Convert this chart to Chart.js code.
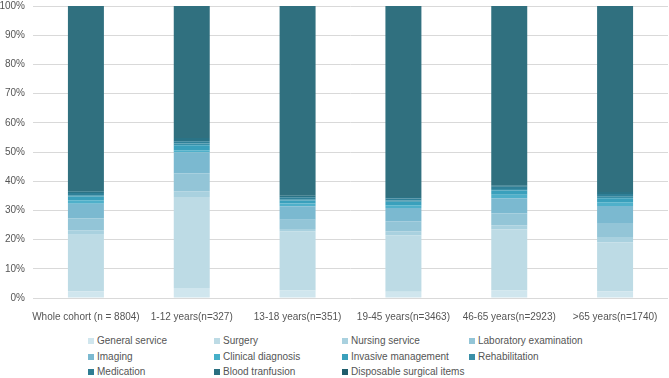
<!DOCTYPE html>
<html>
<head>
<meta charset="utf-8">
<script src="https://cdn.jsdelivr.net/npm/chart.js@4/dist/chart.umd.min.js"></script>
<style>
  html, body { margin: 0; padding: 0; background: #fff; overflow: hidden; }
  #wrap { position: relative; width: 669px; height: 378px; overflow: hidden; }
  #box { position: absolute; left: 0; top: -8px; width: 669px; height: 330px; }
  #legend { position: absolute; left: 0; top: 335px; width: 669px; height: 43px;
    font-family: "Liberation Sans", Arial, sans-serif; font-size: 10px; color: #555; }
  .li { position: absolute; white-space: nowrap; line-height: 12px; }
  .sw { display: inline-block; width: 6px; height: 6px; margin-right: 3px; vertical-align: 0px; }
</style>
</head>
<body>
<div id="wrap">
  <div id="box"><canvas id="c"></canvas></div>
  <div id="legend"></div>
</div>
<script>
const categories = ["Whole cohort (n = 8804)", "1-12 years(n=327)", "13-18 years(n=351)", "19-45 years(n=3463)", "46-65 years(n=2923)", ">65 years(n=1740)"];
const seriesNames = ["General service", "Surgery", "Nursing service", "Laboratory examination", "Imaging", "Clinical diagnosis", "Invasive management", "Rehabilitation", "Medication", "Blood tranfusion", "Disposable surgical items"];
const generalService = [2.3, 3.4, 2.6, 2.1, 2.6, 2.3];
const surgery        = [19.4, 31.2, 20.3, 19.4, 20.9, 16.7];
const nursingService = [1.5, 2.0, 0.7, 1.4, 1.4, 1.9];
const laboratory     = [4.0, 6.0, 3.2, 3.4, 4.0, 4.8];
const imaging        = [5.1, 7.2, 4.6, 4.5, 5.3, 5.8];
const clinicalDiag   = [1.2, 0.8, 1.0, 1.0, 1.2, 1.3];
const invasiveMgmt   = [1.3, 1.7, 1.0, 1.2, 1.4, 1.4];
const rehabilitation = [0.4, 0.6, 0.4, 0.4, 0.5, 0.5];
const medication     = [0.8, 0.8, 0.7, 0.7, 0.8, 0.9];
const bloodTransfusion = [0.6, 1.1, 0.5, 0.5, 0.5, 0.7];
const disposableItems  = [63.4, 45.2, 65.0, 65.4, 61.4, 63.7];
const yTicks = [0, 10, 20, 30, 40, 50, 60, 70, 80, 90, 100];

const seriesValues = [generalService, surgery, nursingService, laboratory, imaging, clinicalDiag, invasiveMgmt, rehabilitation, medication, bloodTransfusion, disposableItems];
const colors = ["#d0e6ee", "#bddbe5", "#a9d1df", "#93c5d7", "#7bb9d0", "#4fb0ca", "#3aa0bc", "#3a8fa7", "#2f8098", "#2a7386", "#30707f"];
const legendColors = ["#d0e6ee", "#bddbe5", "#a9d1df", "#93c5d7", "#7bb9d0", "#45afc8", "#3aa0bc", "#3a8fa7", "#2f7d93", "#2a6f80", "#1f5d6c"];

const datasets = seriesNames.map((n, i) => ({
  label: n,
  data: seriesValues[i],
  backgroundColor: colors[i],
  borderWidth: 0,
  barPercentage: 0.34,
  categoryPercentage: 1.0
}));

new Chart(document.getElementById('c'), {
  type: 'bar',
  data: { labels: categories, datasets },
  options: {
    responsive: true,
    maintainAspectRatio: false,
    animation: false,
    layout: { padding: { top: 0, right: 1, left: 0, bottom: 0 } },
    plugins: { legend: { display: false }, tooltip: { enabled: false } },
    scales: {
      x: {
        stacked: true,
        grid: { display: false },
        border: { display: false },
        ticks: { color: '#555', font: { family: 'Liberation Sans', size: 10 }, padding: 5, maxRotation: 0, autoSkip: false },
        afterFit: s => { s.height = 24; }
      },
      y: {
        stacked: true,
        min: 0, max: 100,
        afterBuildTicks: s => { s.ticks = yTicks.map(v => ({ value: v })); },
        grid: { color: '#d9d9d9', drawTicks: false, lineWidth: 1 },
        border: { display: false },
        ticks: { color: '#555', font: { family: 'Liberation Sans', size: 10 }, padding: 8, callback: v => v + '%' },
        afterFit: s => { s.width = 33; }
      }
    }
  }
});

const legendCols = [88, 214, 342, 469];
const legendRows = [0, 15.5, 31];
const lg = document.getElementById('legend');
seriesNames.forEach((n, i) => {
  const d = document.createElement('div');
  d.className = 'li';
  d.style.left = legendCols[i % 4] + 'px';
  d.style.top = legendRows[Math.floor(i / 4)] + 'px';
  d.innerHTML = '<span class="sw" style="background:' + legendColors[i] + '"></span>' + n;
  lg.appendChild(d);
});
</script>
</body>
</html>
